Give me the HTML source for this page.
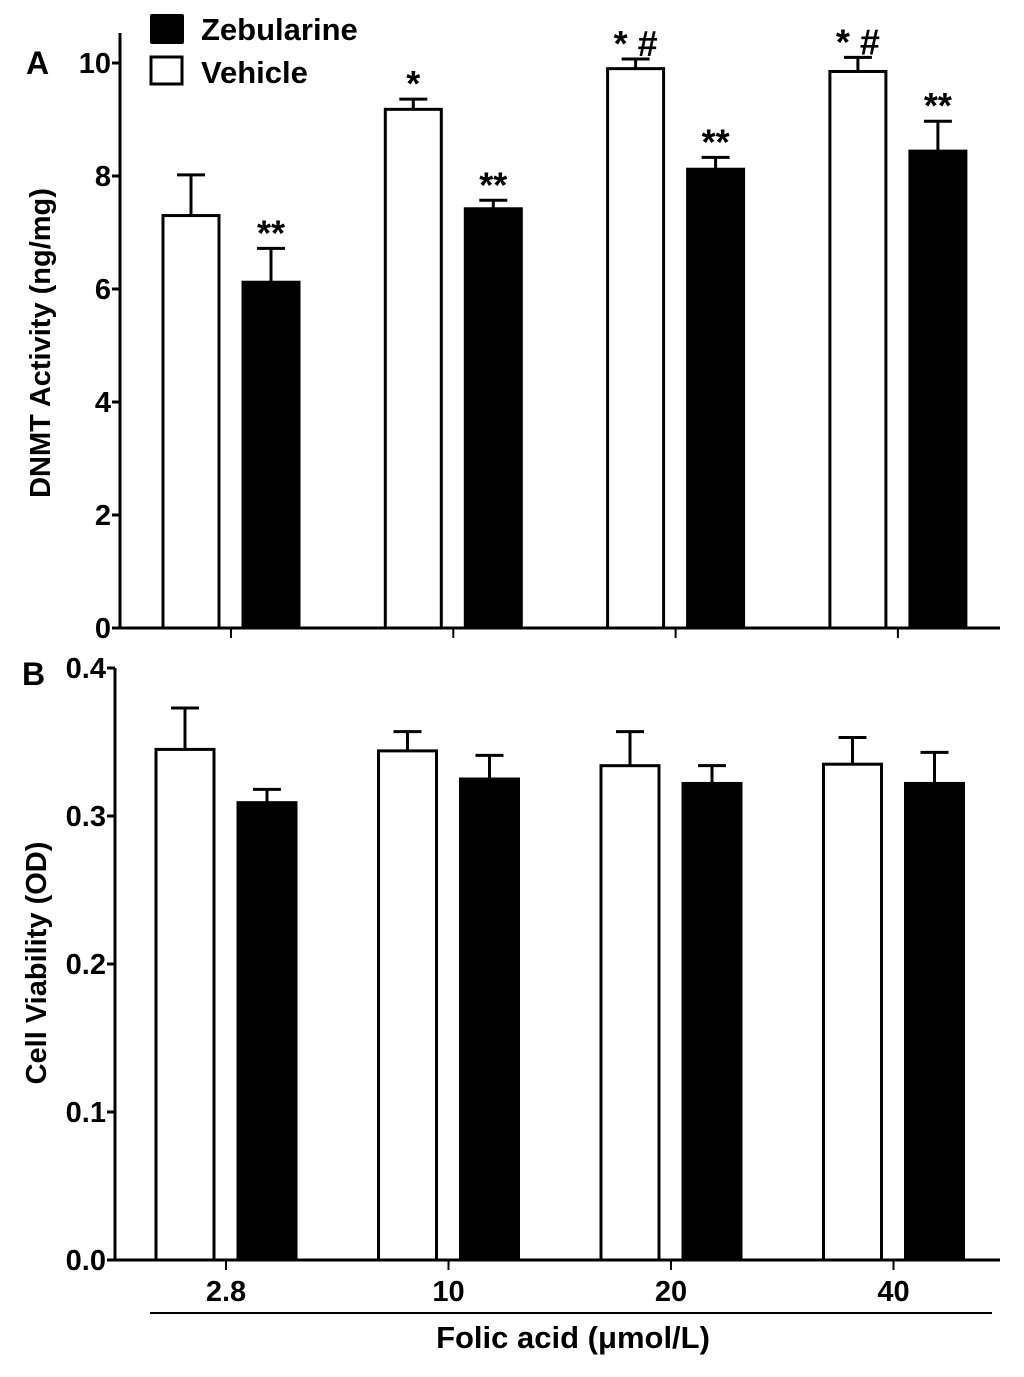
<!DOCTYPE html>
<html><head><meta charset="utf-8"><style>
body{margin:0;background:#fff;}
svg text{font-family:"Liberation Sans",Arial,sans-serif;font-weight:bold;fill:#000;}
</style></head><body>
<svg id="chart" width="1024" height="1372" viewBox="0 0 1024 1372" xmlns="http://www.w3.org/2000/svg">
</svg>
<script>
const categories = ["2.8","10","20","40"];
const dnmtVehicle = [7.3, 9.18, 9.9, 9.85];
const dnmtVehicleErr = [0.72, 0.18, 0.17, 0.25];
const dnmtZeb = [6.12, 7.42, 8.12, 8.44];
const dnmtZebErr = [0.6, 0.15, 0.21, 0.53];
const dnmtVehicleMarks = ["", "*", "* #", "* #"];
const dnmtZebMarks = ["**","**","**","**"];
const dnmtTicks = [0,2,4,6,8,10];
const viaVehicle = [0.345, 0.344, 0.334, 0.335];
const viaVehicleErr = [0.028, 0.013, 0.023, 0.018];
const viaZeb = [0.309, 0.325, 0.322, 0.322];
const viaZebErr = [0.009, 0.016, 0.012, 0.021];
const viaTicks = [0.0,0.1,0.2,0.3,0.4];

const svg = document.getElementById('chart');
const NS = 'http://www.w3.org/2000/svg';
function mk(tag, attrs, text){
  const e = document.createElementNS(NS, tag);
  for (const k in attrs) e.setAttribute(k, attrs[k]);
  if (text !== undefined) e.textContent = text;
  svg.appendChild(e);
  return e;
}
function panel(cfg){
  const y = v => cfg.y0 - (v - cfg.vmin) / (cfg.vmax - cfg.vmin) * (cfg.y0 - cfg.y1);
  const xc = i => cfg.xStart + i * cfg.step;
  let e;
  e = mk('line',{x1:cfg.ax,y1:cfg.axTop,x2:cfg.ax,y2:cfg.y0,stroke:'#000','stroke-width':3});
  
  
  e = mk('line',{x1:cfg.ax,y1:cfg.y0,x2:1000,y2:cfg.y0,stroke:'#000','stroke-width':3});
  
  
  cfg.ticks.forEach(t => {
    mk('line',{x1:cfg.ax-8,y1:y(t),x2:cfg.ax,y2:y(t),stroke:'#000','stroke-width':3});
    e = mk('text',{x:cfg.ax-9,y:y(t)+10,'text-anchor':'end','font-size':29}, cfg.fmt(t));
    
    
  });
  categories.forEach((c,i) => {
    mk('line',{x1:xc(i),y1:cfg.y0,x2:xc(i),y2:cfg.y0+10,stroke:'#000','stroke-width':2});
    const bars = [[cfg.veh[i],cfg.vehErr[i],xc(i)-cfg.off-cfg.w,'#fff','vehicle'],
                  [cfg.zeb[i],cfg.zebErr[i],xc(i)+cfg.off,'#000','zebularine']];
    bars.forEach((b,j) => {
      const [v,er,x,fill,nm] = b;
      const cx = x + cfg.w/2;
      mk('line',{x1:cx,y1:y(v),x2:cx,y2:y(v+er),stroke:'#000','stroke-width':3});
      mk('line',{x1:cx-14,y1:y(v+er),x2:cx+14,y2:y(v+er),stroke:'#000','stroke-width':3});
      e = mk('rect',{x:x,y:y(v),width:cfg.w,height:cfg.y0-y(v),fill:fill,stroke:'#000','stroke-width':3});
      
      
      const marks = j===0 ? cfg.vehMarks : cfg.zebMarks;
      if (marks && marks[i]) {
        e = mk('text',{x:cx,y:y(v+er)-3,'text-anchor':'middle','font-size':36}, marks[i]);
        
        
      }
    });
  });
}
panel({p:'dnmt',ax:120,axTop:33,y0:628,y1:63,vmin:0,vmax:10,ticks:dnmtTicks,fmt:t=>String(t),
  xStart:231,step:222.3,off:12,w:56,veh:dnmtVehicle,vehErr:dnmtVehicleErr,zeb:dnmtZeb,zebErr:dnmtZebErr,
  vehMarks:dnmtVehicleMarks,zebMarks:dnmtZebMarks});
panel({p:'viability',ax:115,axTop:668,y0:1260,y1:668,vmin:0,vmax:0.4,ticks:viaTicks,fmt:t=>t.toFixed(1),
  xStart:226,step:222.5,off:12,w:58,veh:viaVehicle,vehErr:viaVehicleErr,zeb:viaZeb,zebErr:viaZebErr});
categories.forEach((c,i)=>{
  const e = mk('text',{x:226+i*222.5,y:1301,'text-anchor':'middle','font-size':29}, c);
  
  
});
let e;
e = mk('line',{x1:150,y1:1313,x2:992,y2:1313,stroke:'#000','stroke-width':2});


e = mk('text',{x:573,y:1348,'text-anchor':'middle','font-size':31},'Folic acid (μmol/L)');


e = mk('text',{x:0,y:0,'text-anchor':'middle','font-size':29,transform:'translate(50,343) rotate(-90)'},'DNMT Activity (ng/mg)');


e = mk('text',{x:0,y:0,'text-anchor':'middle','font-size':29,transform:'translate(46,963) rotate(-90)'},'Cell Viability (OD)');


e = mk('text',{x:26,y:74,'font-size':32},'A');


e = mk('text',{x:22,y:685,'font-size':32},'B');


e = mk('rect',{x:150,y:14,width:34,height:30,fill:'#000',rx:2});


e = mk('text',{x:201,y:40,'font-size':31},'Zebularine');


e = mk('rect',{x:151,y:57,width:31,height:27,fill:'#fff',stroke:'#000','stroke-width':3});


e = mk('text',{x:201,y:83,'font-size':31},'Vehicle');


</script>
</body></html>
